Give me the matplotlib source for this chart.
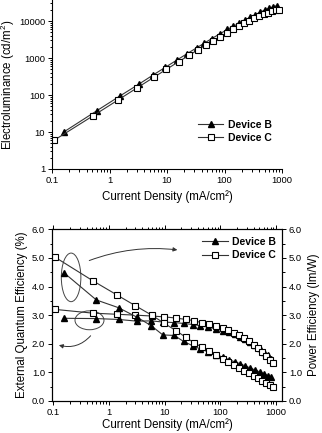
import matplotlib
matplotlib.use("Agg")
import matplotlib.pyplot as plt
import matplotlib.ticker as mticker
from matplotlib.patches import Ellipse

plt.rcParams['font.family'] = ['Liberation Sans', 'DejaVu Sans']
plt.rcParams['mathtext.default'] = 'regular'

# Device B (triangles)
j_b = [0.16, 0.6, 1.5, 3.2, 5.8, 9.3, 15, 22, 33, 44, 60, 84, 112, 142, 181,
       227, 278, 339, 414, 506, 601, 706, 809]
el_b = [10.0, 37.5, 93, 194, 352, 557, 890, 1290, 1900, 2500, 3350, 4550,
        5900, 7250, 8700, 10500, 12500, 14700, 17200, 19900, 22200, 24300, 25900]
eqe_b = [2.89, 2.88, 2.85, 2.79, 2.80, 2.76, 2.74, 2.71, 2.67, 2.63, 2.58, 2.52,
         2.46, 2.40, 2.33, 2.25, 2.16, 2.07, 1.96, 1.84, 1.72, 1.60, 1.48]
pe_b = [4.47, 3.53, 3.26, 2.93, 2.63, 2.31, 2.29, 2.08, 1.92, 1.82, 1.72, 1.62,
        1.53, 1.45, 1.37, 1.30, 1.23, 1.16, 1.09, 1.02, 0.96, 0.89, 0.83]

# Device C (open squares)
j_c = [0.11, 0.52, 1.42, 3.0, 5.9, 9.8, 16, 24, 34, 47, 63, 84, 110, 140, 177,
       220, 270, 330, 400, 480, 570, 670, 780, 900]
el_c = [6.05, 27.5, 74, 155, 301, 496, 798, 1176, 1643, 2208, 2904, 3785, 4826,
        5950, 7275, 8668, 10170, 11810, 13560, 15270, 16870, 18220, 19450, 20430]
eqe_c = [3.20, 3.07, 3.03, 3.00, 2.97, 2.94, 2.90, 2.85, 2.81, 2.73, 2.68, 2.62,
         2.55, 2.47, 2.39, 2.29, 2.19, 2.08, 1.97, 1.85, 1.72, 1.58, 1.45, 1.32]
pe_c = [5.02, 4.20, 3.70, 3.33, 3.00, 2.72, 2.46, 2.23, 2.03, 1.88, 1.74, 1.60,
        1.48, 1.37, 1.26, 1.16, 1.06, 0.97, 0.88, 0.79, 0.70, 0.62, 0.55, 0.49]

x_ticks = [0.1, 1, 10, 100, 1000]
x_labels = ["0.1", "1", "10", "100", "1000"]
el_ticks = [1, 10, 100, 1000, 10000]
el_labels = ["1", "10", "100", "1000", "10000"]
eff_ticks = [0, 1, 2, 3, 4, 5, 6]

line_col = '#333333'
sty_b = dict(color=line_col, lw=0.8, marker='^', ms=5, mfc='black', mec='black')
sty_c = dict(color=line_col, lw=0.8, marker='s', ms=4.5, mfc='white', mec='black',
             mew=0.8)
tick_fs = 6.8
lab_fs = 8.3
leg_fs = 7.5

fig = plt.figure(figsize=(3.22, 4.33), dpi=100)

# ---- top panel: electroluminance
ax1 = fig.add_axes([52 / 322, 1 - 169 / 433, 230 / 322, 169 / 433])
ax1.plot(j_b, el_b, label='Device B', **sty_b)
ax1.plot(j_c, el_c, label='Device C', **sty_c)
ax1.set_xscale('log')
ax1.set_yscale('log')
ax1.set_xlim(0.1, 1000)
ax1.set_ylim(1, 37000)
ax1.set_xticks(x_ticks)
ax1.set_xticklabels(x_labels)
ax1.set_yticks(el_ticks)
ax1.set_yticklabels(el_labels)
ax1.spines['top'].set_visible(False)
ax1.spines['right'].set_visible(False)
ax1.tick_params(which='both', direction='out', labelsize=tick_fs, width=0.7)
ax1.tick_params(which='major', length=3, pad=2)
ax1.tick_params(which='minor', length=1.8)
ax1.set_xlabel("Current Density (mA/cm²)", size=lab_fs, labelpad=4)
ax1.set_ylabel("Electroluminance (cd/m$^2$)", size=lab_fs, labelpad=1)
ax1.legend(loc='upper left', bbox_to_anchor=(0.635, 0.29), frameon=False,
           prop={'size': leg_fs, 'weight': 'bold'}, borderpad=0, borderaxespad=0,
           handlelength=2.4, handletextpad=0.5, labelspacing=0.3)

# ---- bottom panel: EQE (left) and power efficiency (right)
ax2 = fig.add_axes([52 / 322, 1 - 401 / 433, 230 / 322, 171.7 / 433])
ax3 = ax2.twinx()
ax2.plot(j_b, eqe_b, **sty_b)
ax2.plot(j_c, eqe_c, **sty_c)
ax3.plot(j_b, pe_b, label='Device B', **sty_b)
ax3.plot(j_c, pe_c, label='Device C', **sty_c)
for a in (ax2, ax3):
    a.set_xscale('log')
    a.set_xlim(0.096, 1280)
    a.set_ylim(0, 6)
    a.set_yticks(eff_ticks)
    a.yaxis.set_major_formatter(mticker.FormatStrFormatter('%.1f'))
    a.yaxis.set_minor_locator(mticker.MultipleLocator(0.5))
    a.tick_params(which='both', labelsize=tick_fs, width=0.7)
    a.tick_params(which='major', length=3, pad=2)
    a.tick_params(which='minor', length=1.8)
ax2.set_xticks(x_ticks)
ax2.set_xticklabels(x_labels)
ax2.tick_params(axis='x', which='both', direction='out', top=True)
ax2.tick_params(axis='y', which='both', direction='out')
ax3.tick_params(axis='y', which='both', direction='out')
ax2.set_xlabel("Current Density (mA/cm²)", size=lab_fs, labelpad=1)
ax2.set_ylabel("External Quantum Efficiency (%)", size=lab_fs, labelpad=3)
ax3.set_ylabel("Power Efficiency (lm/W)", size=lab_fs, labelpad=4)
ax3.legend(loc='upper left', bbox_to_anchor=(0.651, 0.955), frameon=False,
           prop={'size': leg_fs, 'weight': 'bold'}, borderpad=0, borderaxespad=0,
           handlelength=2.55, handletextpad=0.4, labelspacing=0.3)

# ellipses marking which curves belong to which axis
ax2.add_patch(Ellipse((0.083, 0.72), 0.085, 0.283, transform=ax2.transAxes,
                      fill=False, ec='#444444', lw=0.7))
ax2.add_patch(Ellipse((0.163, 0.47), 0.126, 0.11, transform=ax2.transAxes,
                      fill=False, ec='#444444', lw=0.7))
ax2.annotate("", xy=(0.545, 0.88), xytext=(0.162, 0.818),
             xycoords='axes fraction', textcoords='axes fraction',
             arrowprops=dict(arrowstyle='-|>', lw=0.7, color='#333333',
                             mutation_scale=6, shrinkA=0, shrinkB=0,
                             connectionstyle='arc3,rad=-0.12'))
ax2.annotate("", xy=(0.03, 0.325), xytext=(0.168, 0.38),
             xycoords='axes fraction', textcoords='axes fraction',
             arrowprops=dict(arrowstyle='-|>', lw=0.7, color='#333333',
                             mutation_scale=6, shrinkA=0, shrinkB=0,
                             connectionstyle='arc3,rad=-0.3'))

fig.savefig("out.png", dpi=100)
